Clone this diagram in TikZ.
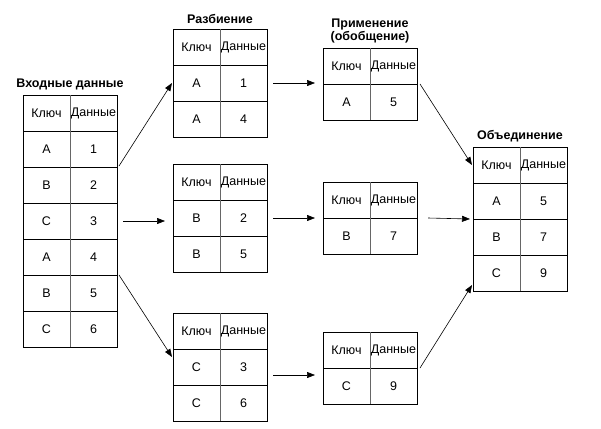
\documentclass[tikz,border=0pt]{standalone}
\usepackage{fontspec}
\setmainfont{Liberation Sans}
\usetikzlibrary{positioning,arrows.meta}

\begin{document}
\begin{tikzpicture}[x=1pt,y=-1pt,
    cell/.style={draw, minimum width=47pt, minimum height=36pt, inner sep=0pt, outer sep=0pt,
      font=\fontsize{12.5}{14}\selectfont},
    caption/.style={font=\bfseries\fontsize{12.5}{13}\selectfont, align=center, inner sep=2pt},
    link/.style={line width=0.6pt, -{Triangle[length=8pt,width=6pt]}}]
  \useasboundingbox (0,0) rectangle (601,428);

  % Table: name, top-left corner, key/value rows
  \def\kvtable#1#2#3{
    \node[cell, anchor=north west] (#1-0-k) at #2 {Ключ};
    \node[cell, right=0pt of #1-0-k] (#1-0-v) {Данные};
    \draw[black!60] (#1-0-k.north east) -- (#1-0-k.south east);
    \foreach \k/\v [count=\i, evaluate=\i as \j using int(\i-1)] in {#3} {
      \node[cell, below=0pt of #1-\j-k] (#1-\i-k) {\k};
      \node[cell, right=0pt of #1-\i-k] (#1-\i-v) {\v};
      \draw[black!60] (#1-\i-k.north east) -- (#1-\i-k.south east);
    }
  }

  % Input
  \kvtable{in}{(23,95)}{A/1, B/2, C/3, A/4, B/5, C/6}
  \node[caption, above=3pt of in-0-k.north east] (in-title) {Входные данные};

  % Partitions
  \kvtable{part1}{(173,29)}{A/1, A/4}
  \kvtable{part2}{(173,164)}{B/2, B/5}
  \kvtable{part3}{(173,313)}{C/3, C/6}
  \node[caption, above=3pt of part1-0-k.north east] (part-title) {Разбиение};

  % Reduce step
  \kvtable{apply1}{(323,48)}{A/5}
  \kvtable{apply2}{(323,182)}{B/7}
  \kvtable{apply3}{(323,332)}{C/9}
  \node[caption, above=3pt of apply1-0-k.north east] (apply-title) {Применение\\(обобщение)};

  % Result
  \kvtable{merge}{(473,147)}{A/5, B/7, C/9}
  \node[caption, above=3pt of merge-0-k.north east] (merge-title) {Объединение};

  % Arrows
  \draw[link] ([shift={(2,-1)}]in-1-v.south east) -- ([xshift=-1pt]part1-1-k.west);
  \draw[link] ([xshift=6pt]in-3-v.east) -- ([xshift=-8pt]in-3-v.east -| part2-1-k.west);
  \draw[link] ([xshift=2pt]in-4-v.south east) -- ([shift={(-1,-10)}]part3-1-k.west);

  \draw[link] ([xshift=6pt]part1-1-v.east) -- ([xshift=-8pt]part1-1-v.east -| apply1-0-k.west);
  \draw[link] ([xshift=6pt]part2-1-v.east) -- ([xshift=-8pt]part2-1-v.east -| apply2-0-k.west);
  \draw[link] ([shift={(6,8)}]part3-1-v.east) -- ([shift={(-8,8)}]part3-1-v.east -| apply3-0-k.west);

  \draw[link] ([xshift=3pt]apply1-0-v.south east) -- ([xshift=-1pt]merge-0-k.west);
  \draw[link] ([xshift=11pt]apply2-0-v.south east) -- ([xshift=-3pt]merge-1-k.south west);
  \draw[link] ([xshift=3pt]apply3-0-v.south east) -- ([shift={(-1,-6)}]merge-3-k.south west);
\end{tikzpicture}
\end{document}
